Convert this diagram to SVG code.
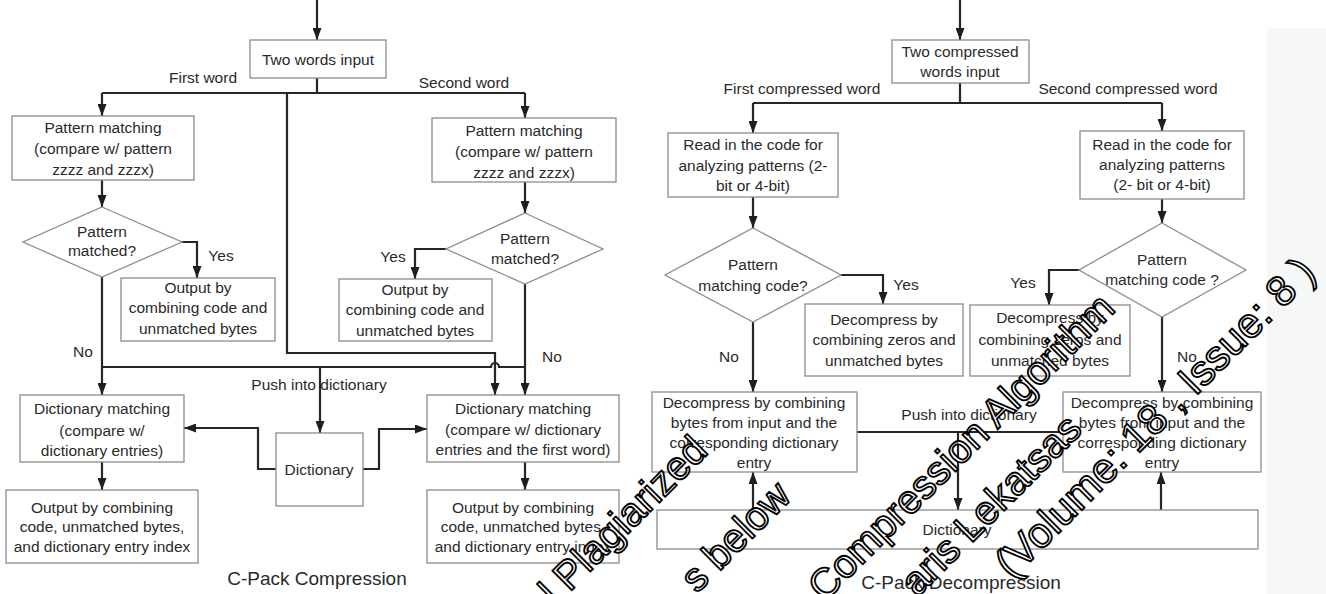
<svg xmlns="http://www.w3.org/2000/svg" width="1326" height="594" viewBox="0 0 1326 594">
<defs>
<marker id="ah" viewBox="0 0 12 9" refX="12" refY="4.5" markerWidth="12" markerHeight="9" markerUnits="userSpaceOnUse" orient="auto"><path d="M0,0 L12,4.5 L0,9 z" fill="#1e1e1e"/></marker>
<style>
.box{fill:#fff;stroke:#8c8c8c;stroke-width:1.3}
.c{fill:none;stroke:#262626;stroke-width:2.2}
.a{marker-end:url(#ah)}
text{font-family:"Liberation Sans",Arial,Helvetica,sans-serif;font-size:15.5px;fill:#2a2a2a;text-anchor:middle}
.t{font-size:19px}
.wm{font-size:40px;fill:#fff;stroke:#000;stroke-width:1.8;text-anchor:start}
</style>
</defs>
<rect x="1267" y="28" width="59" height="566" fill="#f6f7f7"/>
<g id="connectors">
<path class="c a" d="M317,0 V40"/>
<path class="c" d="M317,78 V93 M102,93 H525"/>
<path class="c a" d="M102,93 V116"/>
<path class="c a" d="M525,93 V118"/>
<path class="c a" d="M287,93 V353 H495 V395"/>
<path class="c" d="M102,367 H491 A4,4 0 0 1 499,367 H525"/>
<path class="c a" d="M102,180 V207"/>
<path class="c a" d="M525,182 V213"/>
<path class="c a" d="M182,242 H197 V278"/>
<path class="c a" d="M102,277 V395"/>
<path class="c a" d="M446,249 H415 V279"/>
<path class="c a" d="M525,284 V395"/>
<path class="c a" d="M320,367 V433"/>
<path class="c a" d="M276,469 H258 V428 H184"/>
<path class="c a" d="M363,469 H379 V429 H427"/>
<path class="c a" d="M102,462 V490"/>
<path class="c a" d="M525,462 V490"/>
<path class="c a" d="M960,0 V40"/>
<path class="c" d="M960,83 V103 M753,103 H1162"/>
<path class="c a" d="M753,103 V133"/>
<path class="c a" d="M1162,103 V131"/>
<path class="c a" d="M753,197 V228"/>
<path class="c a" d="M1162,199 V223"/>
<path class="c a" d="M841,275 H883 V304"/>
<path class="c a" d="M753,322 V392"/>
<path class="c a" d="M1079,270 H1049 V305"/>
<path class="c a" d="M1162,317 V392"/>
<path class="c" d="M857,432 H1063"/>
<path class="c a" d="M958,432 V510"/>
<path class="c a" d="M753,510 V472"/>
<path class="c a" d="M1161,510 V472"/>
<text x="203" y="83">First word</text>
<text x="464" y="88">Second word</text>
<text x="221" y="261">Yes</text>
<text x="393" y="262">Yes</text>
<text x="83" y="357">No</text>
<text x="552" y="362">No</text>
<text x="319" y="390">Push into dictionary</text>
<text x="802" y="94">First compressed word</text>
<text x="1128" y="94">Second compressed word</text>
<text x="906" y="290">Yes</text>
<text x="1023" y="288">Yes</text>
<text x="729" y="362">No</text>
<text x="1187" y="362">No</text>
<text x="969" y="420">Push into dictionary</text>
</g>
<g id="input1"><rect class="box" x="250" y="40" width="136" height="38"/><text x="318" y="65">Two words input</text></g>
<g id="pm1"><rect class="box" x="12" y="116" width="182" height="64"/><text x="103" y="133">Pattern matching</text><text x="103" y="154">(compare w/ pattern</text><text x="103" y="175">zzzz and zzzx)</text></g>
<g id="pm2"><rect class="box" x="432" y="118" width="184" height="64"/><text x="524" y="136">Pattern matching</text><text x="524" y="157">(compare w/ pattern</text><text x="524" y="178">zzzz and zzzx)</text></g>
<g id="d1"><polygon class="box" points="102,207 182,242 102,277 23,242"/><text x="102" y="237">Pattern</text><text x="102" y="256">matched?</text></g>
<g id="d2"><polygon class="box" points="525,213 603,249 525,284 446,249"/><text x="525" y="244">Pattern</text><text x="525" y="264">matched?</text></g>
<g id="o1"><rect class="box" x="121" y="278" width="154" height="63"/><text x="198" y="293">Output by</text><text x="198" y="313">combining code and</text><text x="198" y="334">unmatched bytes</text></g>
<g id="o2"><rect class="box" x="339" y="279" width="153" height="62"/><text x="415" y="295">Output by</text><text x="415" y="315">combining code and</text><text x="415" y="336">unmatched bytes</text></g>
<g id="dm1"><rect class="box" x="20" y="395" width="164" height="67"/><text x="102" y="414">Dictionary matching</text><text x="102" y="436">(compare w/</text><text x="102" y="456">dictionary entries)</text></g>
<g id="dm2"><rect class="box" x="427" y="395" width="192" height="67"/><text x="523" y="414">Dictionary matching</text><text x="523" y="435">(compare w/ dictionary</text><text x="523" y="455">entries and the first word)</text></g>
<g id="dict1"><rect class="box" x="276" y="433" width="87" height="73"/><text x="319" y="475">Dictionary</text></g>
<g id="out1"><rect class="box" x="6" y="490" width="192" height="73"/><text x="102" y="513">Output by combining</text><text x="102" y="532">code, unmatched bytes,</text><text x="102" y="552">and dictionary entry index</text></g>
<g id="out2"><rect class="box" x="427" y="490" width="192" height="73"/><text x="523" y="513">Output by combining</text><text x="523" y="532">code, unmatched bytes,</text><text x="523" y="552">and dictionary entry index</text></g>
<g id="title1"><text class="t" x="317" y="585">C-Pack Compression</text></g>
<g id="input2"><rect class="box" x="892" y="40" width="137" height="43"/><text x="960" y="57">Two compressed</text><text x="960" y="77">words input</text></g>
<g id="rc1"><rect class="box" x="668" y="133" width="170" height="64"/><text x="753" y="150">Read in the code for</text><text x="753" y="171">analyzing patterns  (2-</text><text x="753" y="191">bit or 4-bit)</text></g>
<g id="rc2"><rect class="box" x="1080" y="131" width="164" height="68"/><text x="1162" y="150">Read in the code for</text><text x="1162" y="170">analyzing patterns</text><text x="1162" y="190">(2- bit or 4-bit)</text></g>
<g id="rd1"><polygon class="box" points="753,228 841,275 753,322 665,275"/><text x="753" y="270">Pattern</text><text x="753" y="291">matching code?</text></g>
<g id="rd2"><polygon class="box" points="1162,223 1246,270 1162,317 1079,270"/><text x="1162" y="265">Pattern</text><text x="1162" y="285">matching code ?</text></g>
<g id="z1"><rect class="box" x="805" y="304" width="158" height="72"/><text x="884" y="325">Decompress by</text><text x="884" y="345">combining zeros and</text><text x="884" y="366">unmatched bytes</text></g>
<g id="z2"><rect class="box" x="970" y="305" width="160" height="71"/><text x="1050" y="323">Decompress by</text><text x="1050" y="345">combining zeros and</text><text x="1050" y="366">unmatched bytes</text></g>
<g id="dc1"><rect class="box" x="652" y="392" width="205" height="80"/><text x="754" y="408">Decompress by combining</text><text x="754" y="428">bytes from input and the</text><text x="754" y="448">corresponding dictionary</text><text x="754" y="468">entry</text></g>
<g id="dc2"><rect class="box" x="1063" y="392" width="198" height="80"/><text x="1162" y="408">Decompress by combining</text><text x="1162" y="428">bytes from input and the</text><text x="1162" y="448">corresponding dictionary</text><text x="1162" y="468">entry</text></g>
<g id="dict2"><rect class="box" x="657" y="510" width="601" height="39"/><text x="957" y="535">Dictionary</text></g>
<g id="title2"><text class="t" x="961" y="589">C-Pack Decompression</text></g>
<g id="watermark">
<text class="wm" transform="translate(709.5,452.5) rotate(-45)" style="text-anchor:end">l Plagiarized</text>
<text class="wm" transform="translate(793,498) rotate(-45)" style="text-anchor:end">s below</text>
<text class="wm" transform="translate(824.5,602.5) rotate(-45)">Compression Algorithm</text>
<text class="wm" transform="translate(1084,431) rotate(-45)" style="text-anchor:end">aris Lekatsas</text>
<text class="wm" transform="translate(1012,580) rotate(-45)" style="font-size:42px">(Volume: 18 , Issue: 8 )</text>
</g>
</svg>
